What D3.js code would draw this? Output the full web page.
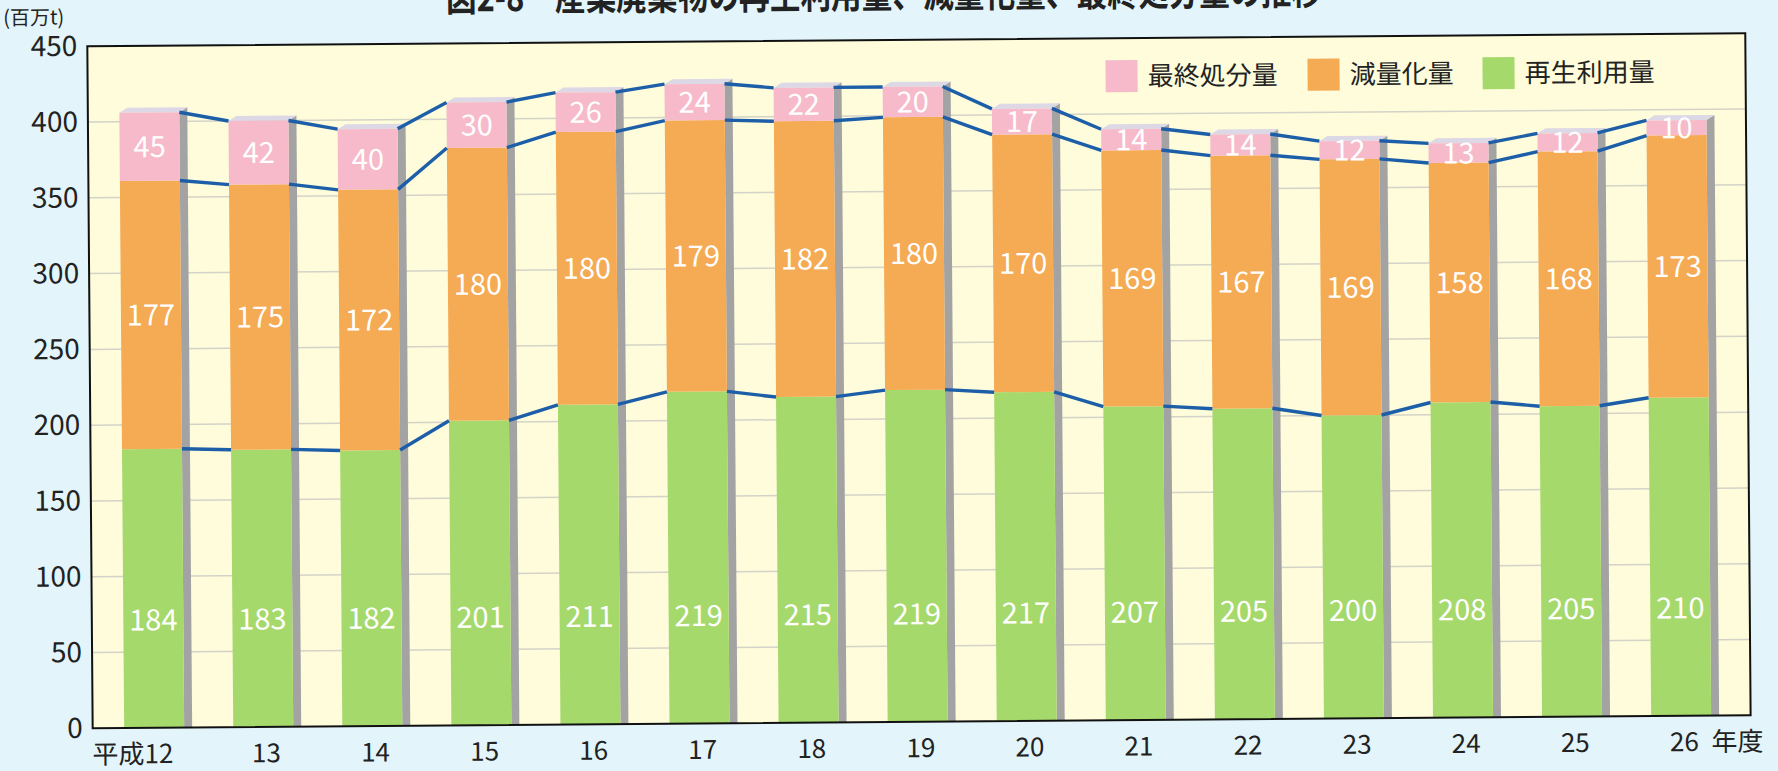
<!DOCTYPE html>
<html><head><meta charset="utf-8">
<script src="https://cdn.jsdelivr.net/npm/d3@7"></script>
<style>html,body{margin:0;padding:0;background:#e3f5fa;} svg{display:block}</style>
</head><body>
<svg id="chart" width="1778" height="771"></svg>
<script>
// ---- data ----
const categories = ["平成12","13","14","15","16","17","18","19","20","21","22","23","24","25","26"];
const finalDisposal = [45,42,40,30,26,24,22,20,17,14,14,12,13,12,10];   // 最終処分量
const reduction     = [177,175,172,180,180,179,182,180,170,169,167,169,158,168,173]; // 減量化量
const recycled      = [184,183,182,201,211,219,215,219,217,207,205,200,208,205,210]; // 再生利用量
const yTicks = [0,50,100,150,200,250,300,350,400,450];
const seriesKeys = ["recycled","reduction","finalDisposal"];
const seriesNames = {finalDisposal:"最終処分量", reduction:"減量化量", recycled:"再生利用量"};
const legendOrder = ["finalDisposal","reduction","recycled"];
const unitLabel = "(百万t)";
const xUnit = "年度";
const title = "図2-8　産業廃棄物の再生利用量、減量化量、最終処分量の推移";

// ---- styles ----
const colors = {finalDisposal:"#f6bacb", reduction:"#f5aa54", recycled:"#a6d96c"};
const W = 1778, H = 771;
const P = {left:90, right:1748, top:40, bottom:722};
const FONT = "'Noto Sans CJK JP','Noto Sans',sans-serif";

const rows = categories.map((c,i)=>({cat:c, recycled:recycled[i], reduction:reduction[i], finalDisposal:finalDisposal[i]}));
const stacked = d3.stack().keys(seriesKeys)(rows);

const svg = d3.select("#chart");
svg.append("rect").attr("width",W).attr("height",H).attr("fill","#e3f5fa");
const g = svg.append("g").attr("transform","rotate(-0.45 889 385)");

const x = d3.scaleBand().domain(categories).range([121.5,1708.5]).paddingInner(0.45).paddingOuter(0);
const y = d3.scaleLinear().domain([0,450]).range([P.bottom,P.top]);
const bw = x.bandwidth();
const depthX = 8, depthY = 5;

// title (cropped at top, as in the scanned original)
g.append("text").attr("x",449).attr("y",8).attr("font-family",FONT).attr("font-size",38)
  .attr("font-weight","bold").attr("fill","#222").attr("textLength",876).attr("lengthAdjust","spacingAndGlyphs")
  .text(title);

// plot background
g.append("rect").attr("x",P.left).attr("y",P.top).attr("width",P.right-P.left).attr("height",P.bottom-P.top).attr("fill","#fefcdb");

// gridlines
g.append("g").selectAll("line").data(yTicks.filter(d=>d>0 && d<450)).join("line")
  .attr("x1",P.left).attr("x2",P.right).attr("y1",d=>y(d)).attr("y2",d=>y(d))
  .attr("stroke","#d3d3c8").attr("stroke-width",1.5);

// y axis labels
const yAxis = d3.axisLeft(y).tickValues(yTicks).tickSize(0).tickPadding(10);
const ya = g.append("g").attr("transform",`translate(${P.left},0)`).call(yAxis);
ya.select(".domain").remove();
ya.selectAll("text").attr("font-family",FONT).attr("font-size",28).attr("fill","#222");

g.append("text").attr("x",6).attr("y",18).attr("font-family",FONT).attr("font-size",20).attr("fill","#222").text(unitLabel);

// shadows (3D side)
const last = stacked[stacked.length-1];
g.append("g").selectAll("path").data(rows).join("path")
  .attr("d",(d,i)=>{
    const x0 = x(d.cat)+bw, yt = y(last[i][1]), yb = y(0);
    return `M${x0},${yt}L${x0+depthX},${yt-depthY}L${x0+depthX},${yb}L${x0},${yb}Z`;
  }).attr("fill","#a4a3a3");
// top faces
g.append("g").selectAll("path").data(rows).join("path")
  .attr("d",(d,i)=>{
    const x0 = x(d.cat), yt = y(last[i][1]);
    return `M${x0},${yt}L${x0+depthX},${yt-depthY}L${x0+bw+depthX},${yt-depthY}L${x0+bw},${yt}Z`;
  }).attr("fill","#dcd8e6");

// stacked bars
stacked.forEach(layer=>{
  g.append("g").selectAll("rect").data(layer).join("rect")
    .attr("x",d=>x(d.data.cat)).attr("width",bw)
    .attr("y",d=>y(d[1])).attr("height",d=>y(d[0])-y(d[1]))
    .attr("fill",colors[layer.key]);
});

// connector lines
stacked.forEach(layer=>{
  const segs = d3.pairs(layer);
  g.append("g").selectAll("line").data(segs).join("line")
    .attr("x1",d=>x(d[0].data.cat)+bw).attr("y1",d=>y(d[0][1]))
    .attr("x2",d=>x(d[1].data.cat)).attr("y2",d=>y(d[1][1]))
    .attr("stroke","#1d5ea8").attr("stroke-width",3.4).attr("stroke-linecap","butt");
});

// value labels
const greenLabelY = P.bottom - 108;
stacked.forEach(layer=>{
  g.append("g").selectAll("text").data(layer).join("text")
    .attr("x",d=>x(d.data.cat)+bw/2)
    .attr("y",d=> layer.key==="recycled" ? greenLabelY : (y(d[0])+y(d[1]))/2)
    .attr("dy","0.36em").attr("text-anchor","middle")
    .attr("font-family",FONT).attr("font-size",29).attr("fill","#fff")
    .text(d=>d.data[layer.key]);
});

// frame
g.append("rect").attr("x",P.left).attr("y",P.top).attr("width",P.right-P.left).attr("height",P.bottom-P.top)
  .attr("fill","none").attr("stroke","#111").attr("stroke-width",2);

// x labels
g.append("g").selectAll("text").data(categories).join("text")
  .attr("x",(d,i)=> i===0 ? x(d)+bw/2+19 : x(d)+bw/2+3)
  .attr("y",P.bottom+26).attr("dy","0.36em")
  .attr("text-anchor",(d,i)=> i===0 ? "end" : "middle")
  .attr("font-family",FONT).attr("font-size",26).attr("fill","#222")
  .text(d=>d);
g.append("text").attr("x",x(categories[categories.length-1])+bw/2+30).attr("y",P.bottom+26).attr("dy","0.36em")
  .attr("font-family",FONT).attr("font-size",26).attr("fill","#222").text(xUnit);

// legend
const legX = {finalDisposal:1108, reduction:1310, recycled:1485};
legendOrder.forEach(k=>{
  g.append("rect").attr("x",legX[k]).attr("y",62).attr("width",32).attr("height",32).attr("fill",colors[k]);
  g.append("text").attr("x",legX[k]+42).attr("y",78).attr("dy","0.36em")
    .attr("font-family",FONT).attr("font-size",26).attr("fill","#222").text(seriesNames[k]);
});
</script>
</body></html>
